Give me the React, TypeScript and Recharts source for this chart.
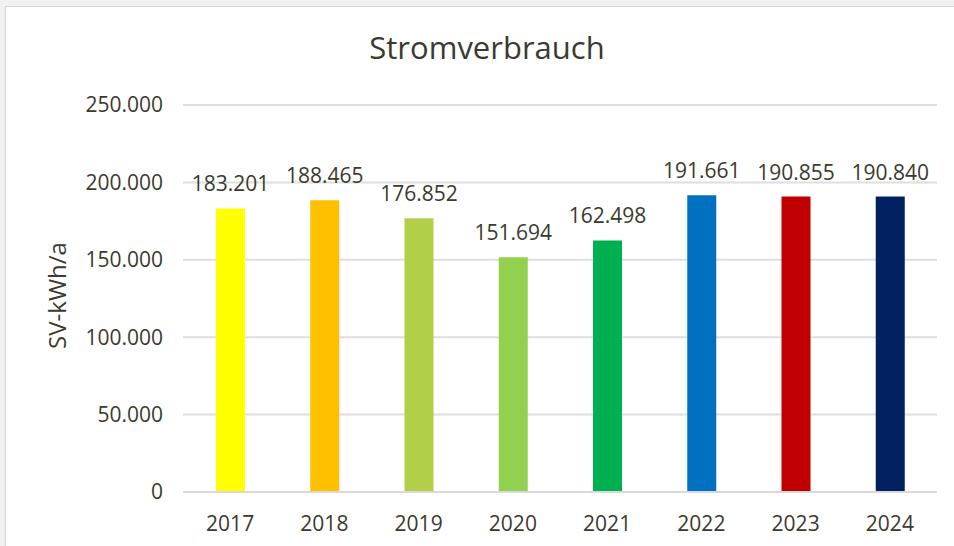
// @ts-nocheck
import { BarChart, Bar, XAxis, YAxis, CartesianGrid, Cell, LabelList } from "recharts";

const years = ["2017", "2018", "2019", "2020", "2021", "2022", "2023", "2024"];
const consumption = [183201, 188465, 176852, 151694, 162498, 191661, 190855, 190840];
const barColors = ["#FFFF00", "#FFC000", "#B2CF4A", "#92D050", "#00B050", "#0070C0", "#C00000", "#002060"];
const yTicks = [0, 50000, 100000, 150000, 200000, 250000];

const textColor = "#3a3a2e";
const font = "'Open Sans', 'Noto Sans', sans-serif";

// German thousands separator: 183201 -> 183.201
const fmt = (v: number) => String(Math.round(v)).replace(/\B(?=(\d{3})+(?!\d))/g, ".");

const data = years.map((y, i) => ({ year: y, value: consumption[i] }));

function AxisTitle({ viewBox }) {
  const cy = viewBox.y + viewBox.height / 2 - 3;
  return (
    <text
      x={66}
      y={cy}
      transform={`rotate(-90, 66, ${cy})`}
      textAnchor="middle"
      fill={textColor}
      fontSize={24}
      fontFamily={font}
    >
      SV-kWh/a
    </text>
  );
}

export default function App() {
  return (
    <div style={{ position: "fixed", left: 0, top: 0, width: 954, height: 546, background: "#f1f1f1", overflow: "hidden" }}>
      <div
        style={{
          position: "absolute",
          left: 5,
          top: 6,
          width: 960,
          height: 560,
          background: "#fff",
          border: "1px solid #d6d6d6",
        }}
      />
      <div
        style={{
          position: "absolute",
          left: 0,
          top: 32,
          width: 974,
          textAlign: "center",
          fontFamily: font,
          fontSize: 31,
          lineHeight: "31px",
          color: textColor,
        }}
      >
        Stromverbrauch
      </div>
      <div style={{ position: "absolute", left: 0, top: 0 }}>
        <BarChart width={954} height={546} data={data} margin={{ top: 105, right: 17, bottom: 0, left: 0 }}>
          <CartesianGrid vertical={false} stroke="#dedede" strokeWidth={2} />
          <XAxis
            dataKey="year"
            height={54}
            tickSize={0}
            tickMargin={24}
            axisLine={{ stroke: "#d9d9d9", strokeWidth: 2 }}
            tick={{ fill: textColor, fontSize: 21, fontFamily: font }}
          />
          <YAxis
            width={183}
            domain={[0, 250000]}
            ticks={yTicks}
            tickFormatter={fmt}
            tickSize={0}
            tickMargin={20}
            axisLine={false}
            tick={{ fill: textColor, fontSize: 21, fontFamily: font }}
            label={{ content: AxisTitle }}
          />
          <Bar dataKey="value" barSize={29} isAnimationActive={false}>
            {data.map((d, i) => (
              <Cell key={d.year} fill={barColors[i]} />
            ))}
            <LabelList
              dataKey="value"
              position="top"
              offset={17}
              formatter={fmt}
              fill={textColor}
              fontSize={21}
              fontFamily={font}
            />
          </Bar>
        </BarChart>
      </div>
    </div>
  );
}
